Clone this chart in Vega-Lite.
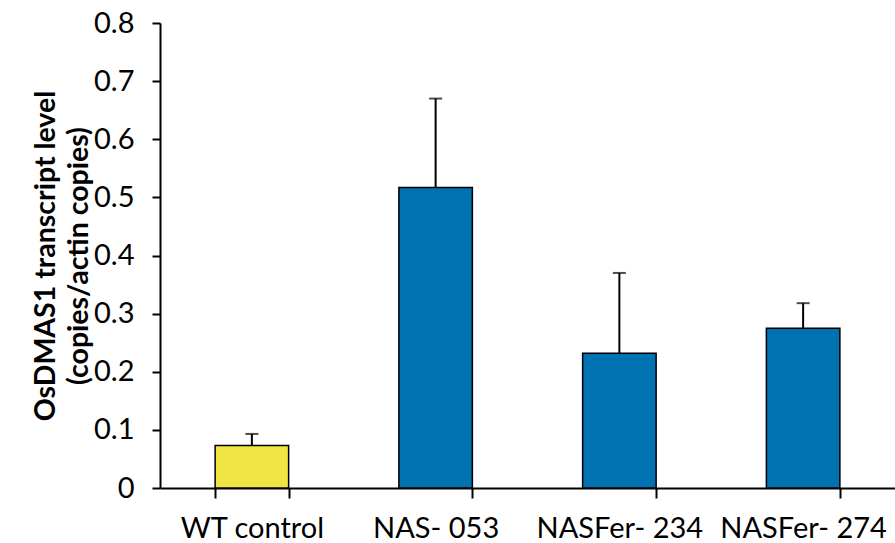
{
  "$schema": "https://vega.github.io/schema/vega-lite/v6.json",
  "autosize": "none",
  "padding": {"left": 160, "top": 23, "right": 0, "bottom": 55},
  "width": 735,
  "height": 465,
  "background": "white",
  "config": {
    "view": {"stroke": null},
    "font": "Lato",
    "axis": {"grid": false, "domainColor": "black", "tickColor": "black", "domainWidth": 2, "tickWidth": 2, "labelColor": "black", "titleColor": "black", "labelFont": "Lato", "titleFont": "Lato"}
  },
  "data": {
    "values": [
      {"group": "WT control", "value": 0.073, "upper": 0.093, "kind": "wt"},
      {"group": "NAS- 053", "value": 0.517, "upper": 0.670, "kind": "tg"},
      {"group": "NASFer- 234", "value": 0.232, "upper": 0.370, "kind": "tg"},
      {"group": "NASFer- 274", "value": 0.275, "upper": 0.318, "kind": "tg"}
    ]
  },
  "encoding": {
    "x": {
      "field": "group", "type": "nominal", "sort": null,
      "scale": {"paddingInner": 0.6, "paddingOuter": 0.3},
      "axis": {"title": null, "labelAngle": 0, "labelFontSize": 29, "labelPadding": 16, "tickSize": 10, "tickBand": "extent", "labelLimit": 300}
    }
  },
  "layer": [
    {
      "mark": {"type": "bar", "stroke": "black", "strokeWidth": 1.5},
      "encoding": {
        "y": {
          "field": "value", "type": "quantitative",
          "scale": {"domain": [0, 0.8], "nice": false},
          "axis": {
            "title": ["OsDMAS1 transcript level", "(copies/actin copies)"],
            "titleFontSize": 28.5, "titleFontWeight": "bold", "titleLineHeight": 33, "titlePadding": 0,
            "labelFontSize": 29, "labelPadding": 18, "tickSize": 8, "format": "~g",
            "values": [0, 0.1, 0.2, 0.3, 0.4, 0.5, 0.6, 0.7, 0.8]
          }
        },
        "color": {
          "field": "kind", "type": "nominal", "legend": null,
          "scale": {"domain": ["wt", "tg"], "range": ["#F0E442", "#0072B2"]}
        }
      }
    },
    {
      "mark": {"type": "rule", "color": "black", "strokeWidth": 2},
      "encoding": {
        "y": {"field": "value", "type": "quantitative"},
        "y2": {"field": "upper"}
      }
    },
    {
      "mark": {"type": "tick", "color": "black", "thickness": 2, "size": 13},
      "encoding": {
        "y": {"field": "upper", "type": "quantitative"}
      }
    }
  ]
}
